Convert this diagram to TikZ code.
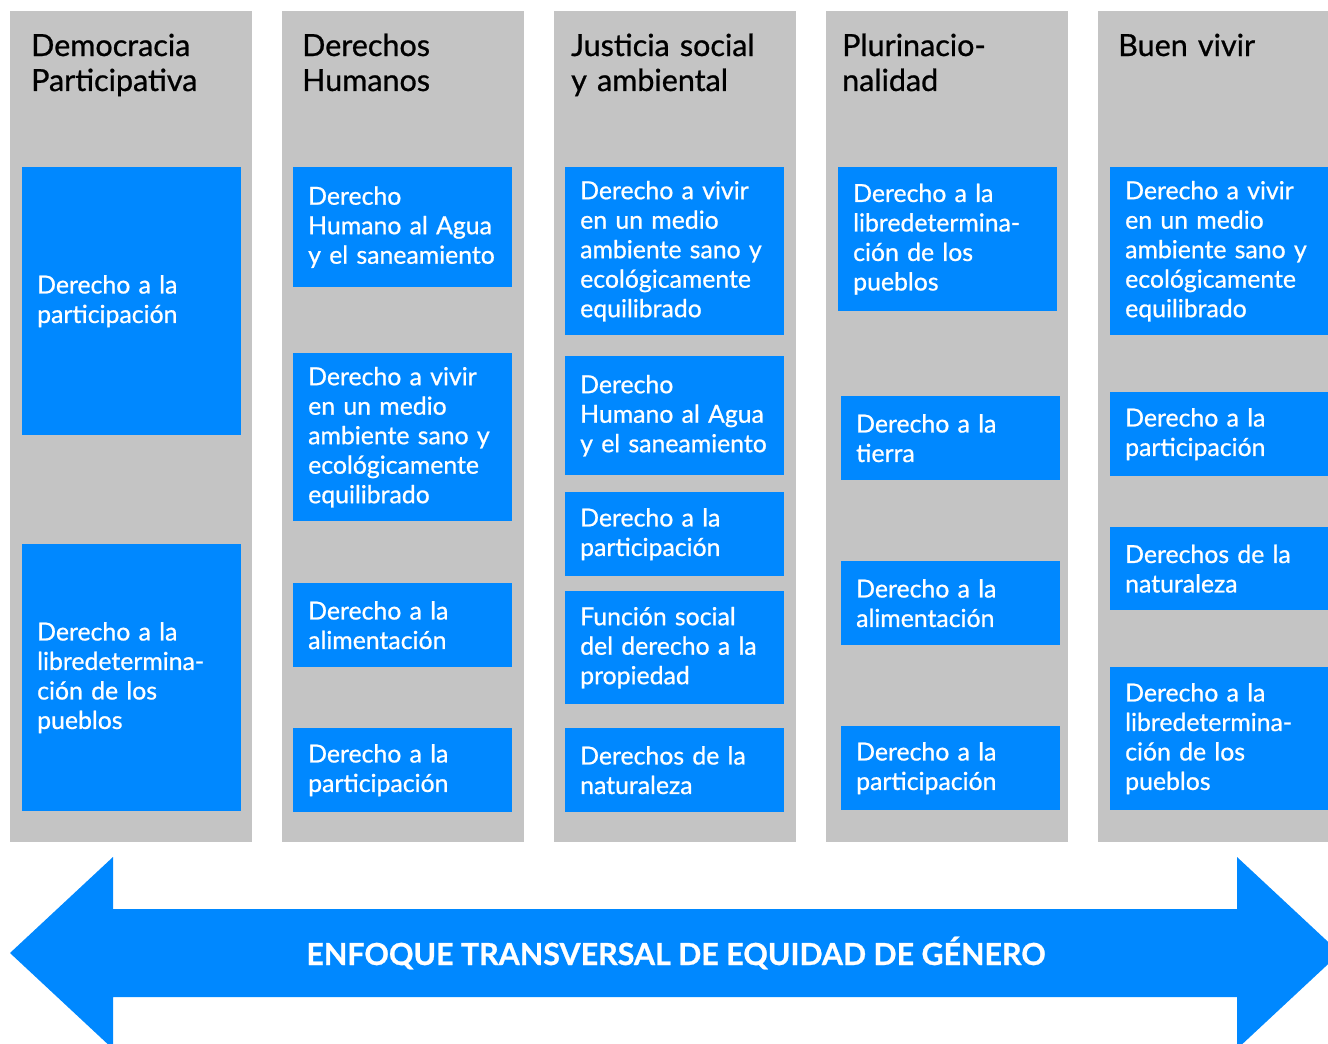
\documentclass[tikz,border=0pt]{standalone}
\usepackage{fontspec}
\setmainfont{Lato}[FakeBold=0.8]
\usepackage{tikz}
\definecolor{gris}{HTML}{C4C4C4}
\definecolor{azul}{HTML}{0088FF}

\begin{document}
\begin{tikzpicture}[x=1pt, y=-1pt,
    columna/.style={fill=gris, anchor=north west, inner sep=0pt, minimum width=242pt, minimum height=831pt},
    titulo/.style={anchor=base west, inner sep=0pt, text width=220pt, align=left, font=\fontsize{30.5}{35}\selectfont},
    caja/.style={fill=azul, text=white, anchor=north west, inner xsep=15pt, inner ysep=0pt, text width=189pt, align=left, font=\fontsize{24.8}{29.5}\selectfont}]
    \useasboundingbox (0,0) rectangle (1328,1044);
    \clip (0,0) rectangle (1328,1044);

    % columns
    \node[columna] (dp) at (10, 11)   {};
    \node[columna] (dh) at (282, 11)  {};
    \node[columna] (js) at (554, 11)  {};
    \node[columna] (pl) at (826, 11)  {};
    \node[columna] (bv) at (1098, 11) {};

    \node[titulo] (tdp) at (31, 56)   {Democracia\\Participativa};
    \node[titulo] (tdh) at (302, 56)  {Derechos\\Humanos};
    \node[titulo] (tjs) at (571, 56)  {Justicia social\\y ambiental};
    \node[titulo] (tpl) at (842, 56)  {Plurinacio-\\nalidad};
    \node[titulo] (tbv) at (1118, 56) {Buen vivir};

    % Democracia Participativa
    \node[caja, minimum height=268pt] (dp1) at (22, 167) {Derecho a la\\participación};
    \node[caja, minimum height=267pt] (dp2) at (22, 544) {Derecho a la\\libredetermina-\\ción de los\\pueblos};

    % Derechos Humanos
    \node[caja, minimum height=120pt] (dh1) at (293, 167) {Derecho\\Humano al Agua\\y el saneamiento};
    \node[caja, minimum height=168pt] (dh2) at (293, 353) {Derecho a vivir\\en un medio\\ambiente sano y\\ecológicamente\\equilibrado};
    \node[caja, minimum height=84pt]  (dh3) at (293, 583) {Derecho a la\\alimentación};
    \node[caja, minimum height=84pt]  (dh4) at (293, 728) {Derecho a la\\participación};

    % Justicia social y ambiental
    \node[caja, minimum height=168pt] (js1) at (565, 167) {Derecho a vivir\\en un medio\\ambiente sano y\\ecológicamente\\equilibrado};
    \node[caja, minimum height=119pt] (js2) at (565, 356) {Derecho\\Humano al Agua\\y el saneamiento};
    \node[caja, minimum height=84pt]  (js3) at (565, 492) {Derecho a la\\participación};
    \node[caja, minimum height=113pt] (js4) at (565, 591) {Función social\\del derecho a la\\propiedad};
    \node[caja, minimum height=84pt]  (js5) at (565, 728) {Derechos de la\\naturaleza};

    % Plurinacionalidad
    \node[caja, minimum height=144pt] (pl1) at (838, 167) {Derecho a la\\libredetermina-\\ción de los\\pueblos};
    \node[caja, minimum height=84pt]  (pl2) at (841, 396) {Derecho a la\\tierra};
    \node[caja, minimum height=84pt]  (pl3) at (841, 561) {Derecho a la\\alimentación};
    \node[caja, minimum height=84pt]  (pl4) at (841, 726) {Derecho a la\\participación};

    % Buen vivir
    \node[caja, minimum height=168pt] (bv1) at (1110, 167) {Derecho a vivir\\en un medio\\ambiente sano y\\ecológicamente\\equilibrado};
    \node[caja, minimum height=84pt]  (bv2) at (1110, 392) {Derecho a la\\participación};
    \node[caja, minimum height=83pt]  (bv3) at (1110, 527) {Derechos de la\\naturaleza};
    \node[caja, minimum height=143pt] (bv4) at (1110, 667) {Derecho a la\\libredetermina-\\ción de los\\pueblos};

    % double arrow
    \fill[azul] (10, 953) -- (113, 857) -- (113, 909) -- (1237, 909) -- (1237, 857)
        -- (1340, 953) -- (1237, 1049) -- (1237, 997) -- (113, 997) -- (113, 1049) -- cycle;
    \node[text=white, font=\fontsize{30.4}{34}\selectfont\bfseries] (enfoque) at (676, 953) {ENFOQUE TRANSVERSAL DE EQUIDAD DE GÉNERO};
\end{tikzpicture}
\end{document}
